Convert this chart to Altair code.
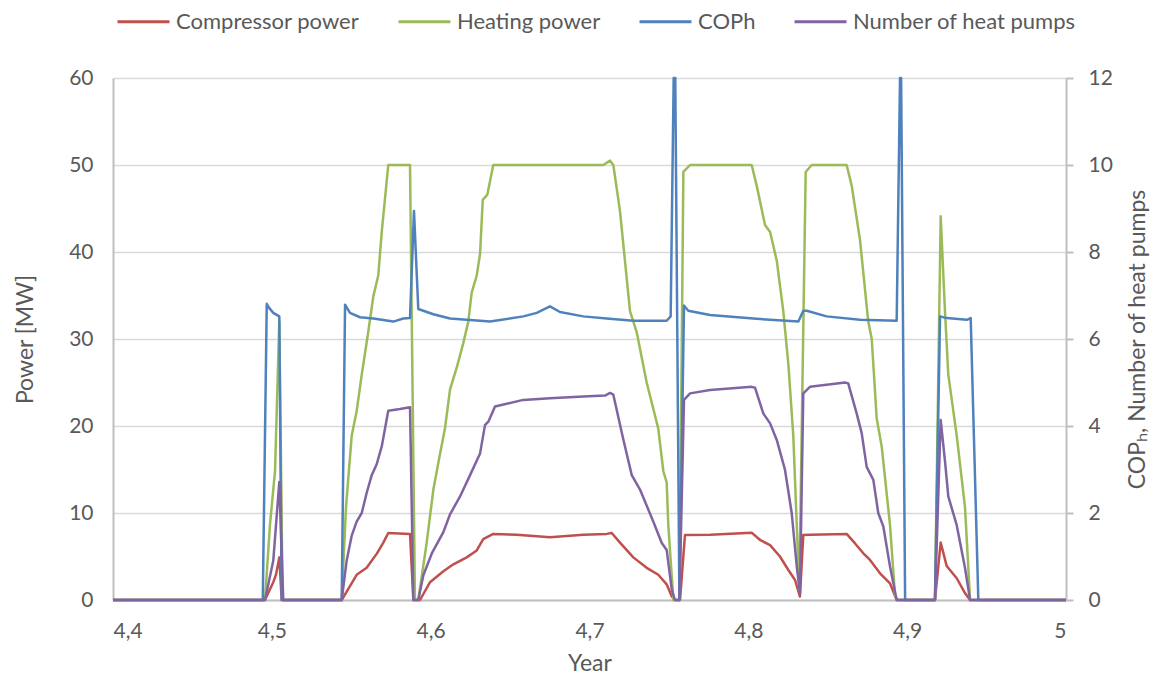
import altair as alt
import pandas as pd

# ---- data (x in years) ----
comp_x = [4.4, 4.4957, 4.5009, 4.5026, 4.5047, 4.5062, 4.5440, 4.5492, 4.5534, 4.5597, 4.5660, 4.5702,
          4.5733, 4.5870, 4.5891, 4.5933, 4.5996, 4.6080, 4.6143, 4.6227, 4.6290, 4.6331, 4.6394, 4.6542,
          4.6751, 4.6961, 4.7108, 4.7140, 4.7192, 4.7276, 4.7360, 4.7433, 4.7486, 4.7518, 4.7538, 4.7570,
          4.7601, 4.7759, 4.8021, 4.8074, 4.8137, 4.8199, 4.8252, 4.8294, 4.8325, 4.8346, 4.8388, 4.8619,
          4.8672, 4.8724, 4.8766, 4.8829, 4.8892, 4.8934, 4.9175, 4.9211, 4.9249, 4.9312, 4.9364, 4.9396, 5.0]
comp_y = [0, 0, 2.05, 2.9, 4.9, 0, 0, 1.6, 2.9, 3.7, 5.3, 6.6,
          7.7, 7.6, 0, 0, 2.05, 3.3, 4.1, 4.9, 5.7, 7.0, 7.6, 7.5,
          7.2, 7.5, 7.6, 7.7, 6.6, 4.9, 3.7, 2.9, 1.8, 0.4, 0, 0,
          7.47, 7.5, 7.74, 6.9, 6.3, 5.0, 3.45, 2.3, 0.4, 7.47, 7.5, 7.6,
          6.5, 5.37, 4.6, 3.07, 1.9, 0, 0, 6.6, 3.9, 2.5, 0.8, 0, 0]

heat_x = [4.4, 4.4957, 4.4988, 4.5020, 4.5047, 4.5068, 4.5440, 4.5467, 4.5503, 4.5534, 4.5566, 4.5607,
          4.5639, 4.5670, 4.5692, 4.5733, 4.5870, 4.5901, 4.5922, 4.5975, 4.6017, 4.6059, 4.6090, 4.6122,
          4.6164, 4.6205, 4.6237, 4.6258, 4.6290, 4.6311, 4.6328, 4.6357, 4.6394, 4.7087, 4.7129, 4.7150,
          4.7192, 4.7255, 4.7297, 4.7360, 4.7433, 4.7465, 4.7486, 4.7496, 4.7528, 4.7566, 4.7591, 4.7633,
          4.8021, 4.8053, 4.8105, 4.8137, 4.8179, 4.8220, 4.8252, 4.8283, 4.8305, 4.8321, 4.8361, 4.8399,
          4.8619, 4.8651, 4.8703, 4.8755, 4.8777, 4.8808, 4.8840, 4.8892, 4.8924, 4.8944, 4.9175, 4.9211,
          4.9238, 4.9259, 4.9312, 4.9364, 4.9396, 5.0]
heat_y = [0, 0, 8.6, 14.8, 32, 0, 0, 10.7, 18.9, 21.7, 25.9, 30.8,
          34.9, 37.3, 42.3, 50, 50, 0, 0, 6.6, 12.7, 16.8, 19.7, 24.2,
          26.7, 29.5, 32, 35.3, 37.3, 39.8, 46, 46.6, 50, 50, 50.5, 50,
          44.7, 33.2, 30.8, 25, 19.7, 14.8, 13.5, 8.6, 0, 0, 49.2, 50,
          50, 47.6, 43.1, 42.3, 39, 33.2, 27.1, 18.9, 8.6, 1.2, 49.2, 50,
          50, 47.6, 41.4, 32, 30, 20.9, 17.6, 8.6, 0.4, 0, 0, 44.1,
          33.2, 25.9, 18.9, 10.7, 0, 0]

cop_x = [4.4, 4.4943, 4.4968, 4.4984, 4.5009, 4.5047, 4.5062, 4.5440, 4.5461, 4.5492, 4.5555, 4.5639,
         4.5765, 4.5828, 4.5870, 4.5895, 4.5922, 4.6017, 4.6122, 4.6227, 4.6374, 4.6583, 4.6668, 4.6751,
         4.6814, 4.6961, 4.7108, 4.7276, 4.7486, 4.7511, 4.7530, 4.7540, 4.7566, 4.7595, 4.7622, 4.7759,
         4.8031, 4.8315, 4.8346, 4.8368, 4.8493, 4.8703, 4.8934, 4.8955, 4.8962, 4.8987, 4.9175, 4.9207,
         4.9249, 4.9375, 4.9400, 4.9448, 5.0]
cop_y = [0, 0, 6.81, 6.71, 6.6, 6.52, 0, 0, 6.79, 6.6, 6.5, 6.47,
         6.4, 6.47, 6.48, 8.94, 6.69, 6.57, 6.47, 6.44, 6.4, 6.52, 6.6, 6.75,
         6.62, 6.52, 6.47, 6.42, 6.42, 6.52, 12, 12, 0, 6.77, 6.65, 6.55,
         6.47, 6.4, 6.65, 6.65, 6.52, 6.44, 6.42, 12, 12, 0, 0, 6.52,
         6.48, 6.44, 6.48, 0, 0]

nhp_x = [4.4, 4.4957, 4.5009, 4.5047, 4.5072, 4.5440, 4.5471, 4.5503, 4.5534, 4.5566, 4.5597, 4.5629,
         4.5660, 4.5692, 4.5733, 4.5807, 4.5870, 4.5891, 4.5922, 4.5954, 4.6007, 4.6080, 4.6122, 4.6185,
         4.6248, 4.6311, 4.6342, 4.6363, 4.6405, 4.6479, 4.6583, 4.6751, 4.6961, 4.7098, 4.7129, 4.7150,
         4.7213, 4.7266, 4.7318, 4.7402, 4.7455, 4.7486, 4.7518, 4.7538, 4.7566, 4.7595, 4.7633, 4.7759,
         4.8021, 4.8042, 4.8094, 4.8137, 4.8179, 4.8231, 4.8273, 4.8305, 4.8325, 4.8346, 4.8388, 4.8609,
         4.8629, 4.8682, 4.8714, 4.8745, 4.8787, 4.8818, 4.8850, 4.8892, 4.8934, 4.9175, 4.9211, 4.9238,
         4.9259, 4.9312, 4.9364, 4.9396, 5.0]
nhp_y = [0, 0, 0.9, 2.71, 0, 0, 0.9, 1.48, 1.8, 2.0, 2.46, 2.87,
         3.12, 3.53, 4.35, 4.39, 4.43, 0, 0, 0.57, 1.07, 1.56, 1.97, 2.38,
         2.87, 3.37, 4.02, 4.1, 4.45, 4.51, 4.6, 4.64, 4.68, 4.7, 4.76, 4.72,
         3.69, 2.87, 2.54, 1.8, 1.31, 1.15, 0.24, 0, 0, 4.6, 4.75, 4.83,
         4.9, 4.88, 4.29, 4.06, 3.68, 2.99, 2.0, 0.77, 0.15, 4.75, 4.9, 5.0,
         4.98, 4.29, 3.83, 3.06, 2.76, 2.0, 1.69, 0.77, 0, 0, 4.14, 3.2,
         2.38, 1.72, 0.74, 0, 0]

series_names = ["Compressor power", "Heating power", "COPh", "Number of heat pumps"]
series_colors = ["#c0504d", "#9bbb59", "#4f81bd", "#8064a2"]
x_ticks = [4.4, 4.5, 4.6, 4.7, 4.8, 4.9, 5.0]
left_ticks = [0, 10, 20, 30, 40, 50, 60]
right_ticks = [0, 2, 4, 6, 8, 10, 12]


def frame(xs, ys, name):
    return pd.DataFrame({"x": xs, "y": ys, "series": name})


FONT = "Lato"
GREY = "#595959"
W, H = 953, 522

color = alt.Color(
    "series:N",
    scale=alt.Scale(domain=series_names, range=series_colors),
    legend=alt.Legend(
        title=None, orient="none", direction="horizontal",
        legendX=3, legendY=-84,
        symbolType="stroke", symbolSize=2700, symbolStrokeWidth=3,
        labelFont=FONT, labelFontSize=22, labelColor=GREY, labelOffset=5,
        labelLimit=0, columnPadding=32,
    ),
)

x_enc = alt.X(
    "x:Q",
    scale=alt.Scale(domain=[4.4, 5.0], nice=False, zero=False),
    axis=alt.Axis(
        values=x_ticks,
        labelExpr="replace(format(datum.value, '~g'), '.', ',')",
        title="Year", grid=False, ticks=False,
        domainColor="#bfbfbf", domainWidth=2,
        labelFont=FONT, labelFontSize=21, labelColor=GREY, labelPadding=20,
        titleFont=FONT, titleFontSize=23, titleFontWeight="normal", titleColor=GREY,
        titlePadding=11,
    ),
)

left_axis = alt.Axis(
    values=left_ticks, title="Power [MW]", grid=True, gridColor="#d9d9d9", gridWidth=1.5,
    ticks=False, domainColor="#bfbfbf", domainWidth=2,
    labelFont=FONT, labelFontSize=21, labelColor=GREY, labelPadding=20,
    titleFont=FONT, titleFontSize=23, titleFontWeight="normal", titleColor=GREY,
    titleX=-88, titleY=H / 2, titleAlign="center", titleBaseline="middle",
)
right_axis = alt.Axis(
    values=right_ticks, title="COPₕ, Number of heat pumps", orient="right", grid=False,
    ticks=True, tickSize=7, tickColor="#bfbfbf", tickWidth=2,
    domainColor="#bfbfbf", domainWidth=2,
    labelFont=FONT, labelFontSize=21, labelColor=GREY, labelPadding=15,
    titleFont=FONT, titleFontSize=23, titleFontWeight="normal", titleColor=GREY,
    titleX=71, titleY=H / 2, titleAngle=270, titleAlign="center", titleBaseline="middle",
)

y_left = alt.Y("y:Q", scale=alt.Scale(domain=[0, 60], nice=False), axis=left_axis)
y_right = alt.Y("y:Q", scale=alt.Scale(domain=[0, 12], nice=False), axis=right_axis)


def line(df, y):
    return alt.Chart(df).mark_line(strokeWidth=2.5, strokeJoin="round").encode(
        x=x_enc, y=y, color=color
    )


left = alt.layer(
    line(frame(comp_x, comp_y, "Compressor power"), y_left),
    line(frame(heat_x, heat_y, "Heating power"), y_left),
)
right = alt.layer(
    line(frame(cop_x, cop_y, "COPh"), y_right),
    line(frame(nhp_x, nhp_y, "Number of heat pumps"), y_right),
)

chart = (
    alt.layer(left, right)
    .resolve_scale(y="independent")
    .properties(
        width=W, height=H,
        autosize=alt.AutoSizeParams(type="none"),
        padding={"left": 113, "top": 78, "right": 87, "bottom": 79},
    )
    .configure_view(stroke=None)
    .configure(background="white")
)

chart.save("out.html", embed_options={"renderer": "svg", "actions": False})
